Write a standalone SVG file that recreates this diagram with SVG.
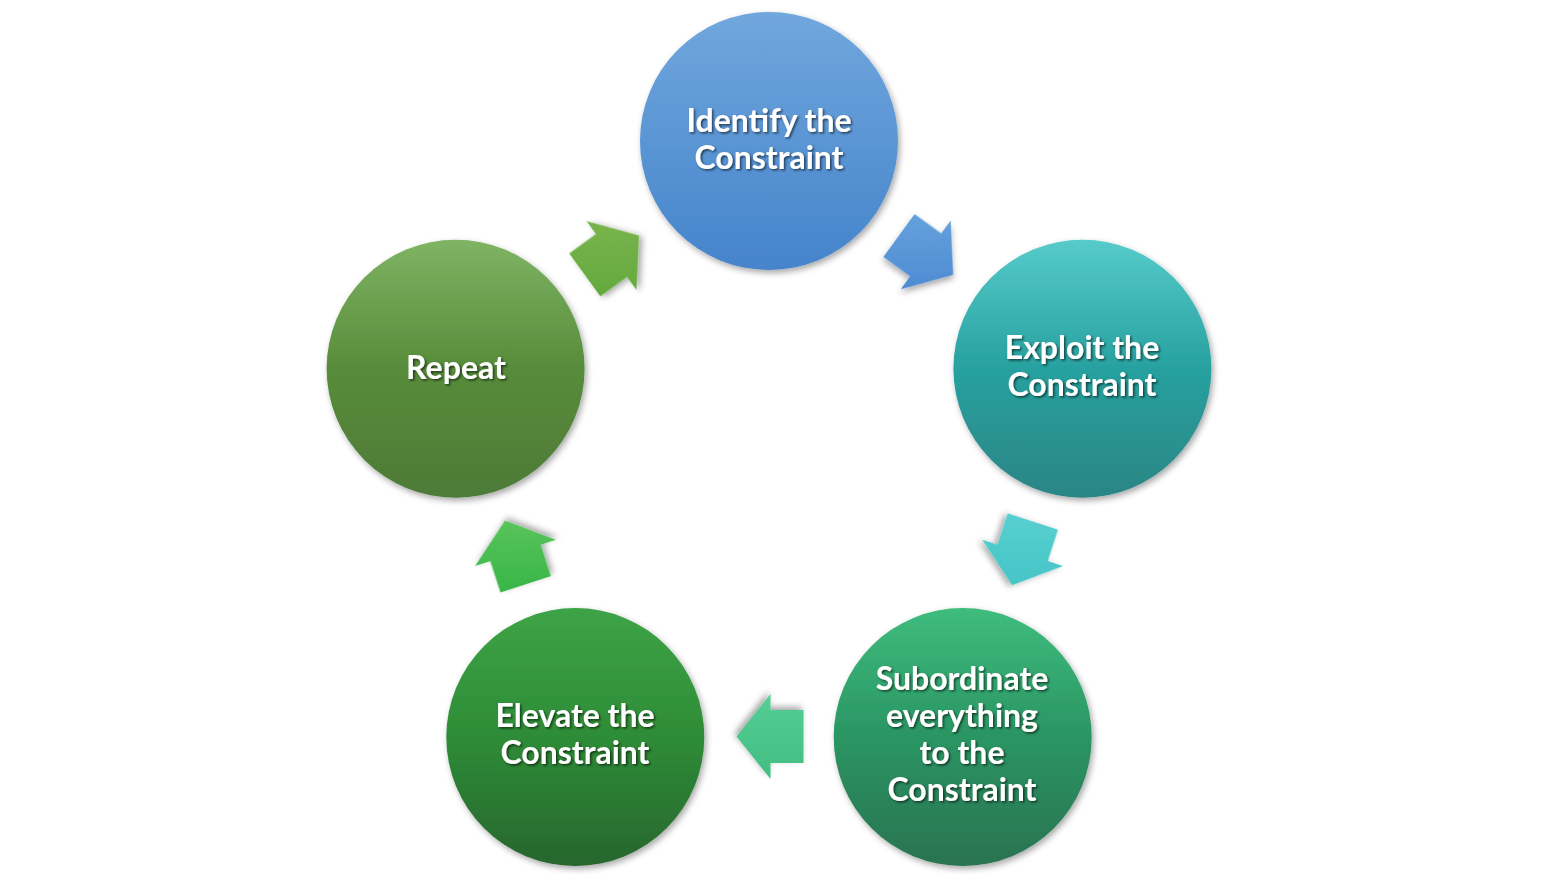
<svg xmlns="http://www.w3.org/2000/svg" width="1541" height="874" viewBox="0 0 1541 874">
<defs>
<linearGradient id="gIdentify" x1="0" y1="0" x2="0" y2="1"><stop offset="0" stop-color="#70A7DD"/><stop offset="1" stop-color="#4584CB"/></linearGradient>
<linearGradient id="gExploit" x1="0" y1="0" x2="0" y2="1"><stop offset="0" stop-color="#55CBCA"/><stop offset="0.5" stop-color="#27A19F"/><stop offset="1" stop-color="#2C8585"/></linearGradient>
<linearGradient id="gSub" x1="0" y1="0" x2="0" y2="1"><stop offset="0" stop-color="#3FBC7E"/><stop offset="0.5" stop-color="#2A9563"/><stop offset="1" stop-color="#2A7350"/></linearGradient>
<linearGradient id="gElev" x1="0" y1="0" x2="0" y2="1"><stop offset="0" stop-color="#3EA346"/><stop offset="0.5" stop-color="#2E8C37"/><stop offset="1" stop-color="#27662D"/></linearGradient>
<linearGradient id="gRep" x1="0" y1="0" x2="0" y2="1"><stop offset="0" stop-color="#7EB463"/><stop offset="0.5" stop-color="#578C3A"/><stop offset="1" stop-color="#4E7A38"/></linearGradient>
<linearGradient id="a1" gradientUnits="userSpaceOnUse" x1="-26.5" y1="-36.4" x2="26.5" y2="36.4"><stop offset="0" stop-color="#67A2DE"/><stop offset="1" stop-color="#4A88D0"/></linearGradient>
<linearGradient id="a2" gradientUnits="userSpaceOnUse" x1="-42.8" y1="13.9" x2="42.8" y2="-13.9"><stop offset="0" stop-color="#58D0D1"/><stop offset="1" stop-color="#44C3C5"/></linearGradient>
<linearGradient id="a3" gradientUnits="userSpaceOnUse" x1="0" y1="45" x2="0" y2="-45"><stop offset="0" stop-color="#55CE95"/><stop offset="1" stop-color="#42BD82"/></linearGradient>
<linearGradient id="a4" gradientUnits="userSpaceOnUse" x1="42.8" y1="13.9" x2="-42.8" y2="-13.9"><stop offset="0" stop-color="#5EC65E"/><stop offset="1" stop-color="#36B447"/></linearGradient>
<linearGradient id="a5" gradientUnits="userSpaceOnUse" x1="26.5" y1="-36.4" x2="-26.5" y2="36.4"><stop offset="0" stop-color="#7CB650"/><stop offset="1" stop-color="#62A83C"/></linearGradient>
<filter id="shadow" x="-20%" y="-20%" width="140%" height="140%"><feDropShadow dx="2" dy="3" stdDeviation="3" flood-color="#000" flood-opacity="0.35"/></filter>
<filter id="tshadow" x="-10%" y="-20%" width="120%" height="150%"><feDropShadow dx="1.5" dy="1.5" stdDeviation="0.8" flood-color="#000" flood-opacity="0.6"/></filter>
<polygon id="arrow" points="-33,-26.5 0,-26.5 0,-42.5 34,0 0,42.5 0,26.5 -33,26.5"/>
</defs>
<style>
.lbl{font-family:"Lato","Open Sans","Liberation Sans",sans-serif;font-weight:bold;font-size:32px;fill:#FFFFFF;text-anchor:middle;filter:url(#tshadow)}
.node circle{filter:url(#shadow)}
.conn use{filter:url(#shadow)}
</style>
<rect width="1541" height="874" fill="#FFFFFF"/>
<g id="connectors" class="conn">
<g transform="translate(925.7,254.9) rotate(36)"><use href="#arrow" fill="url(#a1)"/></g>
<g transform="translate(1022.6,552.9) rotate(108)"><use href="#arrow" fill="url(#a2)"/></g>
<g transform="translate(770.5,736.5) rotate(180)"><use href="#arrow" fill="url(#a3)"/></g>
<g transform="translate(515.5,552.9) rotate(252)"><use href="#arrow" fill="url(#a4)"/></g>
<g transform="translate(611.5,255.5) rotate(324)"><use href="#arrow" fill="url(#a5)"/></g>
</g>
<g id="identify" class="node">
<circle cx="769" cy="141" r="129" fill="url(#gIdentify)"/>
<text class="lbl" x="769" y="132">Identify the</text>
<text class="lbl" x="769" y="169">Constraint</text>
</g>
<g id="exploit" class="node">
<circle cx="1082.4" cy="368.7" r="129" fill="url(#gExploit)"/>
<text class="lbl" x="1082" y="359">Exploit the</text>
<text class="lbl" x="1082" y="396">Constraint</text>
</g>
<g id="subordinate" class="node">
<circle cx="962.7" cy="737.1" r="129" fill="url(#gSub)"/>
<text class="lbl" x="962" y="690">Subordinate</text>
<text class="lbl" x="962" y="727">everything</text>
<text class="lbl" x="962" y="764">to the</text>
<text class="lbl" x="962" y="801">Constraint</text>
</g>
<g id="elevate" class="node">
<circle cx="575.3" cy="737.1" r="129" fill="url(#gElev)"/>
<text class="lbl" x="575" y="727">Elevate the</text>
<text class="lbl" x="575" y="764">Constraint</text>
</g>
<g id="repeat" class="node">
<circle cx="455.6" cy="368.7" r="129" fill="url(#gRep)"/>
<text class="lbl" x="456" y="379">Repeat</text>
</g>
</svg>
